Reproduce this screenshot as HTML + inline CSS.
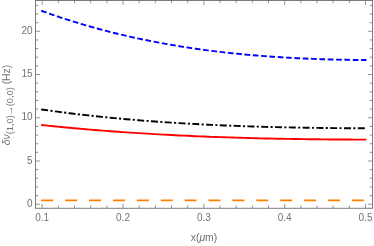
<!DOCTYPE html><html><head><meta charset="utf-8"><style>html,body{margin:0;padding:0;background:#fff}body{width:374px;height:246px;overflow:hidden}</style></head><body><svg width="374" height="246" viewBox="0 0 374 246" style="display:block"><rect width="374" height="246" fill="#fff"/><path d="M42.20 208.25v-4.5M42.20 0.45v4.5M58.36 208.25v-2.8M58.36 0.45v2.8M74.53 208.25v-2.8M74.53 0.45v2.8M90.69 208.25v-2.8M90.69 0.45v2.8M106.86 208.25v-2.8M106.86 0.45v2.8M123.03 208.25v-4.5M123.03 0.45v4.5M139.19 208.25v-2.8M139.19 0.45v2.8M155.35 208.25v-2.8M155.35 0.45v2.8M171.52 208.25v-2.8M171.52 0.45v2.8M187.69 208.25v-2.8M187.69 0.45v2.8M203.85 208.25v-4.5M203.85 0.45v4.5M220.01 208.25v-2.8M220.01 0.45v2.8M236.18 208.25v-2.8M236.18 0.45v2.8M252.35 208.25v-2.8M252.35 0.45v2.8M268.51 208.25v-2.8M268.51 0.45v2.8M284.68 208.25v-4.5M284.68 0.45v4.5M300.84 208.25v-2.8M300.84 0.45v2.8M317.00 208.25v-2.8M317.00 0.45v2.8M333.17 208.25v-2.8M333.17 0.45v2.8M349.33 208.25v-2.8M349.33 0.45v2.8M365.50 208.25v-4.5M365.50 0.45v4.5M35.5 204.25h4.5M372.6 204.25h-4.5M35.5 195.60h2.8M372.6 195.60h-2.8M35.5 186.95h2.8M372.6 186.95h-2.8M35.5 178.31h2.8M372.6 178.31h-2.8M35.5 169.66h2.8M372.6 169.66h-2.8M35.5 161.01h4.5M372.6 161.01h-4.5M35.5 152.36h2.8M372.6 152.36h-2.8M35.5 143.71h2.8M372.6 143.71h-2.8M35.5 135.07h2.8M372.6 135.07h-2.8M35.5 126.42h2.8M372.6 126.42h-2.8M35.5 117.77h4.5M372.6 117.77h-4.5M35.5 109.12h2.8M372.6 109.12h-2.8M35.5 100.47h2.8M372.6 100.47h-2.8M35.5 91.83h2.8M372.6 91.83h-2.8M35.5 83.18h2.8M372.6 83.18h-2.8M35.5 74.53h4.5M372.6 74.53h-4.5M35.5 65.88h2.8M372.6 65.88h-2.8M35.5 57.23h2.8M372.6 57.23h-2.8M35.5 48.59h2.8M372.6 48.59h-2.8M35.5 39.94h2.8M372.6 39.94h-2.8M35.5 31.29h4.5M372.6 31.29h-4.5M35.5 22.64h2.8M372.6 22.64h-2.8M35.5 13.99h2.8M372.6 13.99h-2.8M35.5 5.35h2.8M372.6 5.35h-2.8" stroke="#666" stroke-width="0.7" fill="none"/><rect x="35.5" y="0.45" width="337.1" height="207.8" fill="none" stroke="#666" stroke-width="0.85"/><path d="M41.20 10.75 L45.27 12.21 L49.33 13.65 L53.40 15.06 L57.46 16.44 L61.53 17.79 L65.59 19.11 L69.66 20.41 L73.72 21.68 L77.78 22.93 L81.85 24.14 L85.92 25.34 L89.98 26.50 L94.05 27.65 L98.11 28.76 L102.17 29.86 L106.24 30.92 L110.31 31.97 L114.37 32.98 L118.44 33.98 L122.50 34.95 L126.56 35.90 L130.63 36.83 L134.69 37.73 L138.76 38.61 L142.82 39.47 L146.89 40.30 L150.96 41.12 L155.02 41.91 L159.09 42.68 L163.15 43.43 L167.22 44.16 L171.28 44.87 L175.35 45.56 L179.41 46.23 L183.48 46.88 L187.54 47.51 L191.61 48.13 L195.67 48.72 L199.74 49.29 L203.80 49.85 L207.87 50.39 L211.93 50.91 L216.00 51.41 L220.06 51.90 L224.12 52.36 L228.19 52.82 L232.25 53.25 L236.32 53.67 L240.38 54.07 L244.45 54.46 L248.52 54.83 L252.58 55.19 L256.65 55.53 L260.71 55.86 L264.77 56.17 L268.84 56.47 L272.91 56.75 L276.97 57.02 L281.04 57.28 L285.10 57.53 L289.17 57.76 L293.23 57.98 L297.30 58.18 L301.36 58.38 L305.42 58.56 L309.49 58.73 L313.56 58.89 L317.62 59.04 L321.69 59.18 L325.75 59.31 L329.81 59.43 L333.88 59.54 L337.94 59.63 L342.01 59.72 L346.07 59.80 L350.14 59.87 L354.20 59.93 L358.27 59.99 L362.33 60.03 L366.40 60.07" fill="none" stroke="#0000ff" stroke-width="1.9" stroke-dasharray="5.7 2.64" stroke-linecap="butt" stroke-linejoin="round"/><path d="M41.20 109.45 L45.27 110.02 L49.33 110.58 L53.40 111.14 L57.46 111.67 L61.53 112.20 L65.59 112.72 L69.66 113.23 L73.72 113.72 L77.78 114.21 L81.85 114.68 L85.92 115.14 L89.98 115.59 L94.05 116.04 L98.11 116.47 L102.17 116.89 L106.24 117.30 L110.31 117.70 L114.37 118.10 L118.44 118.48 L122.50 118.85 L126.56 119.22 L130.63 119.57 L134.69 119.91 L138.76 120.25 L142.82 120.58 L146.89 120.90 L150.96 121.21 L155.02 121.51 L159.09 121.80 L163.15 122.08 L167.22 122.36 L171.28 122.63 L175.35 122.89 L179.41 123.14 L183.48 123.38 L187.54 123.62 L191.61 123.85 L195.67 124.07 L199.74 124.29 L203.80 124.50 L207.87 124.70 L211.93 124.89 L216.00 125.08 L220.06 125.26 L224.12 125.43 L228.19 125.60 L232.25 125.76 L236.32 125.91 L240.38 126.06 L244.45 126.21 L248.52 126.34 L252.58 126.47 L256.65 126.60 L260.71 126.72 L264.77 126.84 L268.84 126.95 L272.91 127.05 L276.97 127.15 L281.04 127.24 L285.10 127.33 L289.17 127.42 L293.23 127.50 L297.30 127.58 L301.36 127.65 L305.42 127.72 L309.49 127.78 L313.56 127.84 L317.62 127.90 L321.69 127.95 L325.75 128.00 L329.81 128.05 L333.88 128.09 L337.94 128.13 L342.01 128.17 L346.07 128.20 L350.14 128.23 L354.20 128.26 L358.27 128.28 L362.33 128.31 L366.40 128.33" fill="none" stroke="#000" stroke-width="1.9" stroke-dasharray="7 2.35 2.1 2.35" stroke-linecap="butt" stroke-linejoin="round"/><path d="M41.20 125.00 L45.27 125.42 L49.33 125.84 L53.40 126.25 L57.46 126.66 L61.53 127.05 L65.59 127.44 L69.66 127.82 L73.72 128.19 L77.78 128.55 L81.85 128.91 L85.92 129.26 L89.98 129.60 L94.05 129.94 L98.11 130.26 L102.17 130.59 L106.24 130.90 L110.31 131.21 L114.37 131.51 L118.44 131.80 L122.50 132.09 L126.56 132.37 L130.63 132.64 L134.69 132.91 L138.76 133.17 L142.82 133.42 L146.89 133.67 L150.96 133.91 L155.02 134.15 L159.09 134.38 L163.15 134.60 L167.22 134.82 L171.28 135.03 L175.35 135.23 L179.41 135.43 L183.48 135.63 L187.54 135.82 L191.61 136.00 L195.67 136.18 L199.74 136.35 L203.80 136.52 L207.87 136.68 L211.93 136.83 L216.00 136.98 L220.06 137.13 L224.12 137.27 L228.19 137.41 L232.25 137.54 L236.32 137.67 L240.38 137.79 L244.45 137.91 L248.52 138.02 L252.58 138.13 L256.65 138.23 L260.71 138.33 L264.77 138.43 L268.84 138.52 L272.91 138.61 L276.97 138.69 L281.04 138.77 L285.10 138.84 L289.17 138.92 L293.23 138.98 L297.30 139.05 L301.36 139.11 L305.42 139.16 L309.49 139.22 L313.56 139.27 L317.62 139.31 L321.69 139.36 L325.75 139.40 L329.81 139.43 L333.88 139.47 L337.94 139.50 L342.01 139.53 L346.07 139.55 L350.14 139.57 L354.20 139.59 L358.27 139.61 L362.33 139.62 L366.40 139.63" fill="none" stroke="#ff0000" stroke-width="1.9" stroke-linecap="butt" stroke-linejoin="round"/><path d="M41.20 200.35 L45.27 200.35 L49.33 200.35 L53.40 200.35 L57.46 200.35 L61.53 200.35 L65.59 200.35 L69.66 200.35 L73.72 200.35 L77.78 200.35 L81.85 200.35 L85.92 200.35 L89.98 200.35 L94.05 200.35 L98.11 200.35 L102.17 200.35 L106.24 200.35 L110.31 200.35 L114.37 200.35 L118.44 200.35 L122.50 200.35 L126.56 200.35 L130.63 200.35 L134.69 200.35 L138.76 200.35 L142.82 200.35 L146.89 200.35 L150.96 200.35 L155.02 200.35 L159.09 200.35 L163.15 200.35 L167.22 200.35 L171.28 200.35 L175.35 200.35 L179.41 200.35 L183.48 200.35 L187.54 200.35 L191.61 200.35 L195.67 200.35 L199.74 200.35 L203.80 200.35 L207.87 200.35 L211.93 200.35 L216.00 200.35 L220.06 200.35 L224.12 200.35 L228.19 200.35 L232.25 200.35 L236.32 200.35 L240.38 200.35 L244.45 200.35 L248.52 200.35 L252.58 200.35 L256.65 200.35 L260.71 200.35 L264.77 200.35 L268.84 200.35 L272.91 200.35 L276.97 200.35 L281.04 200.35 L285.10 200.35 L289.17 200.35 L293.23 200.35 L297.30 200.35 L301.36 200.35 L305.42 200.35 L309.49 200.35 L313.56 200.35 L317.62 200.35 L321.69 200.35 L325.75 200.35 L329.81 200.35 L333.88 200.35 L337.94 200.35 L342.01 200.35 L346.07 200.35 L350.14 200.35 L354.20 200.35 L358.27 200.35 L362.33 200.35 L366.40 200.35" fill="none" stroke="#ff8000" stroke-width="1.9" stroke-dasharray="12 11.9" stroke-linecap="butt" stroke-linejoin="round"/><text x="32.5" y="206.95" text-anchor="end" style="font-family:'Liberation Sans',sans-serif;font-size:10px;fill:#727272">0</text><text x="32.5" y="163.71" text-anchor="end" style="font-family:'Liberation Sans',sans-serif;font-size:10px;fill:#727272">5</text><text x="32.5" y="120.47" text-anchor="end" style="font-family:'Liberation Sans',sans-serif;font-size:10px;fill:#727272">10</text><text x="32.5" y="77.23" text-anchor="end" style="font-family:'Liberation Sans',sans-serif;font-size:10px;fill:#727272">15</text><text x="32.5" y="33.99" text-anchor="end" style="font-family:'Liberation Sans',sans-serif;font-size:10px;fill:#727272">20</text><text x="42.20" y="221" text-anchor="middle" style="font-family:'Liberation Sans',sans-serif;font-size:10px;fill:#727272">0.1</text><text x="123.03" y="221" text-anchor="middle" style="font-family:'Liberation Sans',sans-serif;font-size:10px;fill:#727272">0.2</text><text x="203.85" y="221" text-anchor="middle" style="font-family:'Liberation Sans',sans-serif;font-size:10px;fill:#727272">0.3</text><text x="284.68" y="221" text-anchor="middle" style="font-family:'Liberation Sans',sans-serif;font-size:10px;fill:#727272">0.4</text><text x="365.50" y="221" text-anchor="middle" style="font-family:'Liberation Sans',sans-serif;font-size:10px;fill:#727272">0.5</text><text x="204" y="240.5" text-anchor="middle" style="font-family:'Liberation Sans',sans-serif;font-size:10.4px;fill:#727272">x(<tspan font-style="italic">μ</tspan>m)</text><text transform="translate(10,105) rotate(-90)" text-anchor="middle" style="font-family:'Liberation Sans',sans-serif;font-size:10.4px;fill:#727272"><tspan font-style="italic" font-size="10.4">δν</tspan><tspan dy="3" font-size="9.3">(1,0)</tspan><tspan font-size="10.6" dx="-0.9">→</tspan><tspan font-size="9.3" dx="-0.9">(0,0)</tspan><tspan dy="-3"> (Hz)</tspan></text></svg></body></html>
